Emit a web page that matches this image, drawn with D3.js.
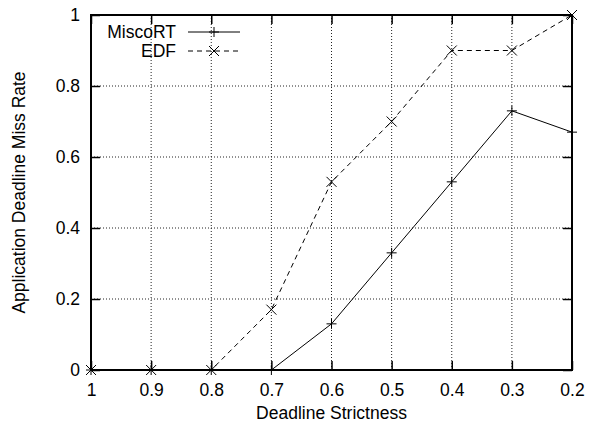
<!DOCTYPE html>
<html>
<head>
<meta charset="utf-8">
<script src="https://cdn.jsdelivr.net/npm/d3@7"></script>
<style>
  body { margin: 0; background: #fff; }
  text { font-family: "Liberation Sans", Arial, Helvetica, sans-serif; }
</style>
</head>
<body>
<div id="chart"></div>
<script>
// Data
var strictness = [1, 0.9, 0.8, 0.7, 0.6, 0.5, 0.4, 0.3, 0.2];
var miscoRT = [0, 0, 0, 0, 0.13, 0.33, 0.53, 0.73, 0.67];
var edf = [0, 0, 0, 0.17, 0.53, 0.7, 0.9, 0.9, 1.0];
var yTicks = [0, 0.2, 0.4, 0.6, 0.8, 1];
var seriesNames = ["MiscoRT", "EDF"];

var margin = {top: 15, right: 24, bottom: 53, left: 91},
    width = 596 - margin.left - margin.right,
    height = 423 - margin.top - margin.bottom;

var fontSize = "17.5px";

var svg = d3.select("#chart").append("svg")
    .attr("width", 596)
    .attr("height", 423);

var g = svg.append("g")
    .attr("transform", "translate(" + margin.left + "," + margin.top + ")");

var x = d3.scaleLinear().domain([1, 0.2]).range([0, width]);
var y = d3.scaleLinear().domain([0, 1]).range([height, 0]);

// Grid (dotted)
g.selectAll("line.vgrid")
  .data(strictness.slice(1, -1))
  .enter().append("line")
  .attr("class", "vgrid")
  .attr("x1", function(d) { return x(d); })
  .attr("x2", function(d) { return x(d); })
  .attr("y1", 0).attr("y2", height)
  .style("stroke", "#222")
  .style("stroke-width", 1)
  .style("stroke-dasharray", "1,2");

g.selectAll("line.hgrid")
  .data(yTicks.slice(1, -1))
  .enter().append("line")
  .attr("class", "hgrid")
  .attr("x1", 0).attr("x2", width)
  .attr("y1", function(d) { return y(d); })
  .attr("y2", function(d) { return y(d); })
  .style("stroke", "#222")
  .style("stroke-width", 1)
  .style("stroke-dasharray", "1,2");

// Axes with inward ticks
var xAxis = d3.axisBottom(x).tickValues(strictness).tickSize(-9).tickPadding(14)
    .tickFormat(d3.format("~g"));
var yAxis = d3.axisLeft(y).tickValues(yTicks).tickSize(-9).tickPadding(11)
    .tickFormat(d3.format("~g"));
var xTop = d3.axisTop(x).tickValues(strictness).tickSize(-9).tickFormat("");
var yRight = d3.axisRight(y).tickValues(yTicks).tickSize(-9).tickFormat("");

function styleAxis(sel) {
  sel.select(".domain").remove();
  sel.selectAll(".tick line").style("stroke", "#000").style("stroke-width", 1.5);
  sel.selectAll(".tick text").style("font-size", fontSize).style("fill", "#000")
    .style("font-family", "'Liberation Sans', Arial, sans-serif");
}

g.append("g").attr("transform", "translate(0," + height + ")").call(xAxis).call(styleAxis);
g.append("g").call(yAxis).call(styleAxis);
g.append("g").call(xTop).call(styleAxis);
g.append("g").attr("transform", "translate(" + width + ",0)").call(yRight).call(styleAxis);

// Border
g.append("rect")
  .attr("x", 0).attr("y", 0)
  .attr("width", width).attr("height", height)
  .style("fill", "none")
  .style("stroke", "#000")
  .style("stroke-width", 2);

// Lines
var line = d3.line()
  .x(function(d) { return x(d[0]); })
  .y(function(d) { return y(d[1]); });

var series = [
  {name: seriesNames[0], values: d3.zip(strictness, miscoRT), dash: null, marker: "plus"},
  {name: seriesNames[1], values: d3.zip(strictness, edf), dash: "5,4", marker: "cross"}
];

function drawMarker(sel, type, px, py) {
  var s = 5;
  if (type === "plus") {
    sel.append("path")
      .attr("d", "M" + (px - s) + "," + py + "H" + (px + s) + "M" + px + "," + (py - s) + "V" + (py + s));
  } else {
    sel.append("path")
      .attr("d", "M" + (px - s) + "," + (py - s) + "L" + (px + s) + "," + (py + s) +
                 "M" + (px - s) + "," + (py + s) + "L" + (px + s) + "," + (py - s));
  }
  sel.selectAll("path").style("stroke", "#000").style("stroke-width", 1).style("fill", "none");
}

series.forEach(function(s) {
  g.append("path")
    .datum(s.values)
    .attr("d", line)
    .style("fill", "none")
    .style("stroke", "#000")
    .style("stroke-width", 1)
    .style("stroke-dasharray", s.dash);
  var mg = g.append("g");
  s.values.forEach(function(d) {
    drawMarker(mg, s.marker, x(d[0]), y(d[1]));
  });
});

// Legend
series.forEach(function(s, i) {
  var ly = 17 + i * 19;
  var lg = g.append("g");
  lg.append("text")
    .attr("x", 85).attr("y", ly)
    .attr("dy", "0.35em")
    .attr("text-anchor", "end")
    .style("font-size", fontSize)
    .text(s.name);
  lg.append("line")
    .attr("x1", 97).attr("x2", 149)
    .attr("y1", ly).attr("y2", ly)
    .style("stroke", "#000")
    .style("stroke-width", 1)
    .style("stroke-dasharray", s.dash);
  drawMarker(lg, s.marker, 123, ly);
});

// Axis titles
svg.append("text")
  .attr("x", margin.left + width / 2)
  .attr("y", 419)
  .attr("text-anchor", "middle")
  .style("font-size", fontSize)
  .text("Deadline Strictness");

svg.append("text")
  .attr("transform", "rotate(-90)")
  .attr("x", -(margin.top + height / 2))
  .attr("y", 25)
  .attr("text-anchor", "middle")
  .style("font-size", fontSize)
  .text("Application Deadline Miss Rate");
</script>
</body>
</html>
